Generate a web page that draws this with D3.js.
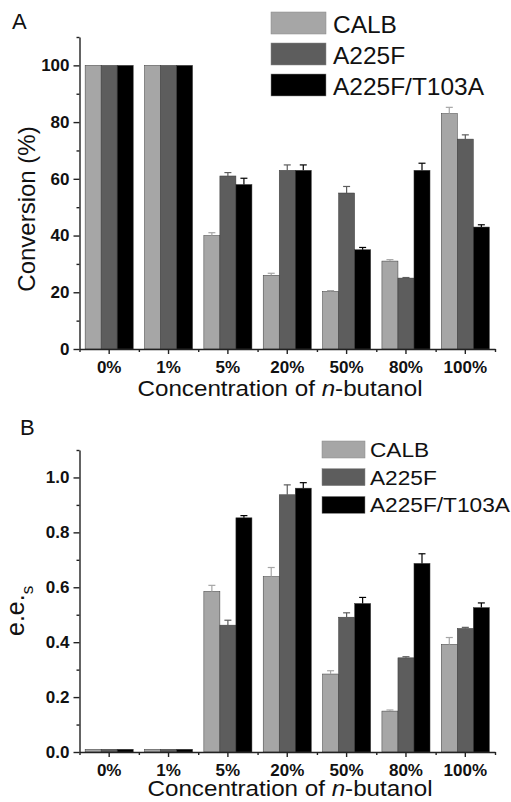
<!DOCTYPE html>
<html>
<head>
<meta charset="utf-8">
<script src="https://cdn.jsdelivr.net/npm/d3@7"></script>
<style>
  body { margin: 0; background: #fff; }
  text { font-family: "Liberation Sans", Arial, sans-serif; }
</style>
</head>
<body>
<script>
// categories and series
const categories = ["0%", "1%", "5%", "20%", "50%", "80%", "100%"];
const seriesNames = ["CALB", "A225F", "A225F/T103A"];
const seriesColors = ["#a6a6a6", "#5d5d5d", "#000000"];

// panel A: conversion (%)
const convCALB  = [100, 100, 40, 26, 20.3, 31, 83];
const convA225F = [100, 100, 61, 63, 55, 25, 74];
const convT103A = [100, 100, 58, 63, 35, 63, 43];
const convErrCALB  = [0, 0, 1.0, 0.7, 0.3, 0.5, 2.2];
const convErrA225F = [0, 0, 1.2, 1.9, 2.3, 0.2, 1.5];
const convErrT103A = [0, 0, 2.2, 1.9, 0.8, 2.5, 0.8];
const convTicks = [0, 20, 40, 60, 80, 100];
const convMinorTicks = [10, 30, 50, 70, 90, 110];

// panel B: e.e.s
const eesCALB  = [0.01, 0.01, 0.585, 0.639, 0.284, 0.149, 0.392];
const eesA225F = [0.01, 0.01, 0.462, 0.937, 0.491, 0.343, 0.45];
const eesT103A = [0.01, 0.01, 0.853, 0.961, 0.541, 0.687, 0.526];
const eesErrCALB  = [0, 0, 0.022, 0.033, 0.012, 0.004, 0.025];
const eesErrA225F = [0, 0, 0.018, 0.036, 0.016, 0.004, 0.004];
const eesErrT103A = [0, 0, 0.008, 0.02, 0.022, 0.035, 0.017];
const eesTicks = [0, 0.2, 0.4, 0.6, 0.8, 1.0];
const eesMinorTicks = [0.1, 0.3, 0.5, 0.7, 0.9, 1.1];

const W = 511, H = 802;
const left = 79.5, right = 495;

const svg = d3.select("body").append("svg")
    .attr("width", W)
    .attr("height", H);

function drawPanel(cfg){
    let g = svg.append("g");

    let x = d3.scaleBand()
        .domain(categories)
        .range([left, right])
        .paddingInner(0.19)
        .paddingOuter(0.095);

    let xs = d3.scaleBand()
        .domain(seriesNames)
        .range([0, x.bandwidth()]);

    let y = d3.scaleLinear()
        .domain([0, cfg.yMax])
        .range([cfg.bottom, cfg.top]);

    // bars
    cfg.values.forEach(function(vals, si){
        let sg = g.append("g");
        sg.selectAll("rect")
            .data(vals)
            .enter()
            .append("rect")
            .attr("x", (d, i) => x(categories[i]) + xs(seriesNames[si]))
            .attr("y", d => y(d))
            .attr("width", xs.bandwidth())
            .attr("height", d => y(0) - y(d))
            .attr("fill", seriesColors[si])
            .attr("stroke", "#3a3a3a")
            .attr("stroke-width", 0.5);

        // error bars (upper half only)
        let errs = cfg.errors[si];
        vals.forEach(function(v, i){
            if(!errs[i]) return;
            let cx = x(categories[i]) + xs(seriesNames[si]) + xs.bandwidth() / 2;
            sg.append("line")
                .attr("x1", cx).attr("x2", cx)
                .attr("y1", y(v)).attr("y2", y(v + errs[i]))
                .attr("stroke", seriesColors[si]).attr("stroke-width", 1.2);
            sg.append("line")
                .attr("x1", cx - 3.5).attr("x2", cx + 3.5)
                .attr("y1", y(v + errs[i])).attr("y2", y(v + errs[i]))
                .attr("stroke", seriesColors[si]).attr("stroke-width", 1.2);
        });
    });

    // y axis
    g.append("g")
        .attr("transform", "translate(" + left + ",0)")
        .call(d3.axisLeft(y).tickValues(cfg.ticks).tickFormat(cfg.fmt)
            .tickSize(6).tickSizeOuter(0).tickPadding(4));
    g.append("g")
        .attr("transform", "translate(" + left + ",0)")
        .call(d3.axisLeft(y).tickValues(cfg.minorTicks).tickFormat("")
            .tickSize(3).tickSizeOuter(0))
        .select(".domain").remove();

    // x axis
    g.append("g")
        .attr("transform", "translate(0," + cfg.bottom + ")")
        .call(d3.axisBottom(x).tickSize(5).tickSizeOuter(0).tickPadding(7));
    let xb = d3.scaleLinear().domain([0, categories.length]).range([left, right]);
    g.append("g")
        .attr("transform", "translate(0," + cfg.bottom + ")")
        .call(d3.axisBottom(xb).tickValues(d3.range(0, categories.length + 1)).tickFormat("")
            .tickSize(3).tickSizeOuter(0))
        .select(".domain").remove();

    g.selectAll(".domain, .tick line")
        .attr("stroke", "#222")
        .attr("stroke-width", 1.4);
    g.selectAll(".tick text")
        .attr("fill", "#111")
        .style("font-size", "17px")
        .style("font-weight", "bold")
        .style("font-family", "'Liberation Sans', Arial, sans-serif");

    // x title
    let xt = g.append("text")
        .attr("transform", "translate(" + cfg.xTitleX + "," + cfg.xTitleY + ") scale(1.1,1)")
        .attr("text-anchor", "middle")
        .style("font-size", "22px")
        .attr("fill", "#111");
    xt.append("tspan").text("Concentration of ");
    xt.append("tspan").style("font-style", "italic").text("n");
    xt.append("tspan").text("-butanol");

    // panel letter
    g.append("text")
        .attr("x", cfg.letterX).attr("y", cfg.letterY)
        .style("font-size", "22px")
        .attr("fill", "#111")
        .text(cfg.letter);

    // legend
    let lg = cfg.legend;
    seriesNames.forEach(function(name, i){
        g.append("rect")
            .attr("x", lg.x).attr("y", lg.y + i * lg.gap)
            .attr("width", lg.w).attr("height", lg.h)
            .attr("fill", seriesColors[i])
            .attr("stroke", "#888").attr("stroke-width", 0.5);
        g.append("text")
            .attr("transform", "translate(" + lg.textX + "," + (lg.y + i * lg.gap + lg.h - 1) + ") scale(" + lg.sx + ",1)")
            .style("font-size", lg.font + "px")
            .attr("fill", "#111")
            .text(name);
    });

    return g;
}

let gA = drawPanel({
    top: 37, bottom: 349, yMax: 110,
    values: [convCALB, convA225F, convT103A],
    errors: [convErrCALB, convErrA225F, convErrT103A],
    ticks: convTicks, minorTicks: convMinorTicks, fmt: d3.format("d"),
    xTitleX: 280, xTitleY: 396,
    letter: "A", letterX: 12, letterY: 29,
    legend: {x: 271, y: 12, w: 55, h: 22, gap: 31, textX: 333, font: 24, sx: 1.02}
});
gA.append("text")
    .attr("transform", "translate(35,209) rotate(-90)")
    .attr("text-anchor", "middle")
    .style("font-size", "24px")
    .attr("fill", "#111")
    .text("Conversion (%)");

let gB = drawPanel({
    top: 450, bottom: 752, yMax: 1.1,
    values: [eesCALB, eesA225F, eesT103A],
    errors: [eesErrCALB, eesErrA225F, eesErrT103A],
    ticks: eesTicks, minorTicks: eesMinorTicks, fmt: d3.format(".1f"),
    xTitleX: 290, xTitleY: 796,
    letter: "B", letterX: 20, letterY: 435,
    legend: {x: 322, y: 441, w: 43, h: 17, gap: 27.7, textX: 370, font: 21, sx: 1.08}
});
let ylab = gB.append("text")
    .attr("transform", "translate(24,636) rotate(-90)")
    .attr("fill", "#111");
ylab.append("tspan").style("font-size", "25px").text("e.e.");
ylab.append("tspan").style("font-size", "17px").attr("dy", 9).text("s");
</script>
</body>
</html>
